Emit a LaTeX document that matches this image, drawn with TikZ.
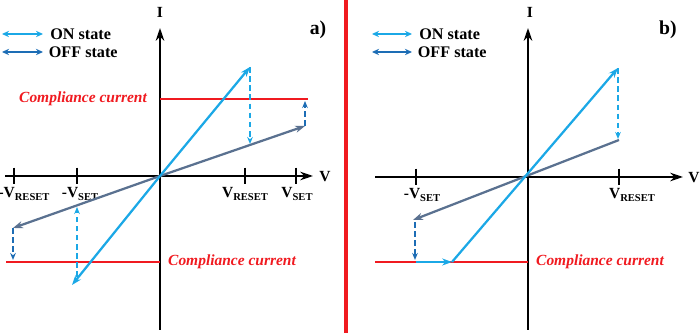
\documentclass[tikz,border=0pt]{standalone}
\usepackage{fontspec}
\setmainfont{Liberation Serif}
\usetikzlibrary{positioning,arrows.meta}
\definecolor{ink}{HTML}{000000}
\definecolor{onblue}{HTML}{1BA8E6}
\definecolor{offblue}{HTML}{1D6DB5}
\definecolor{offgray}{HTML}{5A7190}
\definecolor{ccred}{HTML}{F01A20}
\newcommand{\lowtxt}[1]{\raisebox{-0.45ex}{\fontsize{7.5pt}{8pt}\selectfont #1}}
\tikzset{
  ax/.style={-{Stealth[length=9pt,width=6pt]}, line width=1.7pt, color=ink},
  tickmark/.style={line width=1.3pt, color=ink},
  onarr/.style={-{Stealth[length=7pt,width=5pt]}, line width=1.6pt, color=onblue},
  offarr/.style={-{Stealth[length=7pt,width=5pt]}, line width=1.6pt, color=offgray},
  ondash/.style={-{Stealth[length=5pt,width=4pt]}, dash pattern=on 4pt off 2.5pt, line width=1.1pt, color=onblue},
  offdash/.style={-{Stealth[length=5pt,width=4pt]}, dash pattern=on 4pt off 2.5pt, line width=1.1pt, color=offblue},
  legarr/.style={{Stealth[length=5pt,width=4.5pt]}-{Stealth[length=5pt,width=4.5pt]}, line width=1.6pt},
  ccline/.style={line width=1.1pt, color=ccred},
  cclab/.style={font=\fontsize{11pt}{13pt}\selectfont\bfseries\itshape, text=ccred},
  lab/.style={font=\fontsize{11.5pt}{13pt}\selectfont\bfseries, text=ink, inner sep=1pt},
  vlab/.style={font=\fontsize{11pt}{13pt}\selectfont\bfseries, text=ink, inner sep=1pt},
  panlab/.style={font=\fontsize{14pt}{16pt}\selectfont\bfseries, text=ink},
}

\begin{document}
\begin{tikzpicture}[x=0.025cm, y=-0.025cm]
    \useasboundingbox (0,0) rectangle (700,333);
    % ---- panel a)
    \coordinate (oa) at (160,176);
    \coordinate (itopa) at (160,28);
    \coordinate (ibota) at (160,330);
    \coordinate (vlefta) at (5,176);
    \coordinate (vrighta) at (313,176);
    \draw[ax] (ibota) -- (itopa);
    \draw[ax] (vlefta) -- (vrighta);
    \node[vlab] (ia) at (160,12) {I};
    \node[vlab] (va) at (325,177) {V};
    \foreach \x/\n in {14/nra, 77/nsa, 245/pra, 296/psa} {
      \coordinate (\n) at (\x,176);
      \draw[tickmark] ([yshift=6pt]\n) -- ([yshift=-6pt]\n);
    }
    \node[vlab] (lnra) at (24,194) {-V\lowtxt{RESET}};
    \node[vlab] (lnsa) at (80,194) {-V\lowtxt{SET}};
    \node[vlab] (lpra) at (245,194) {V\lowtxt{RESET}};
    \node[vlab] (lpsa) at (297,194) {V\lowtxt{SET}};
    \coordinate (cca1) at (160,99);
    \coordinate (cca2) at (308,99);
    \coordinate (ccb1) at (6,262);
    \coordinate (ccb2) at (160,262);
    \draw[ccline] (cca1) -- (cca2);
    \draw[ccline] (ccb1) -- (ccb2);
    \node[cclab] (ccta) at (83,99) {Compliance current};
    \node[cclab] (ccba) at (232,262) {Compliance current};
    \coordinate (ona1) at (250,67);
    \coordinate (ona2) at (72,285);
    \coordinate (offa1) at (305,126);
    \coordinate (offa2) at (13,228);
    \draw[offarr] (oa) -- (offa1);
    \draw[offarr] (oa) -- (offa2);
    \draw[onarr] (oa) -- (ona1);
    \draw[onarr] (oa) -- (ona2);
    \coordinate (da1) at (250,144);
    \coordinate (da2) at (305,101);
    \coordinate (da3) at (77,277);
    \coordinate (da4) at (77,207);
    \coordinate (da5) at (13,260);
    \draw[ondash] (ona1) -- (da1);
    \draw[offdash] (offa1) -- (da2);
    \draw[ondash] (da3) -- (da4);
    \draw[offdash] (offa2) -- (da5);
    \coordinate (lga1) at (2,34);
    \coordinate (lga2) at (43,34);
    \coordinate (lga3) at (2,52);
    \coordinate (lga4) at (43,52);
    \draw[legarr, color=onblue] (lga1) -- (lga2);
    \draw[legarr, color=offblue] (lga3) -- (lga4);
    \node[lab, right=4pt of lga2] (legona) {ON state};
    \node[lab, right=3pt of lga4] (legoffa) {OFF state};
    \node[panlab] (pa) at (318,30) {a)};
    % ---- separator
    \coordinate (sep1) at (346,0);
    \coordinate (sep2) at (346,333);
    \draw[line width=3pt, color=ccred] (sep1) -- (sep2);
    % ---- panel b)
    \coordinate (ob) at (528,177);
    \coordinate (itopb) at (528,28);
    \coordinate (ibotb) at (528,330);
    \coordinate (vleftb) at (375,177);
    \coordinate (vrightb) at (683,177);
    \draw[ax] (ibotb) -- (itopb);
    \draw[ax] (vleftb) -- (vrightb);
    \node[vlab] (ib) at (530,12) {I};
    \node[vlab] (vb) at (694,178) {V};
    \foreach \x/\n in {416/nsb, 619/prb} {
      \coordinate (\n) at (\x,177);
      \draw[tickmark] ([yshift=6pt]\n) -- ([yshift=-6pt]\n);
    }
    \node[vlab] (lnsb) at (422,195) {-V\lowtxt{SET}};
    \node[vlab] (lprb) at (632,195) {V\lowtxt{RESET}};
    \coordinate (ccc1) at (375,262);
    \coordinate (ccc2) at (528,262);
    \draw[ccline] (ccc1) -- (ccc2);
    \node[cclab] (ccb) at (600,262) {Compliance current};
    \coordinate (onb0) at (416,262);
    \coordinate (onb1) at (452,262);
    \coordinate (onb2) at (618,68);
    \coordinate (offb1) at (619,140);
    \coordinate (offb2) at (413,220);
    \draw[offarr] (offb1) -- (offb2);
    \draw[onarr] (onb0) -- (onb1);
    \draw[onarr] (onb1) -- (onb2);
    \coordinate (db1) at (618,139);
    \coordinate (db2) at (415,222);
    \coordinate (db3) at (415,260);
    \draw[ondash] (onb2) -- (db1);
    \draw[offdash] (db2) -- (db3);
    \coordinate (lgb1) at (372,34);
    \coordinate (lgb2) at (412,34);
    \coordinate (lgb3) at (372,52);
    \coordinate (lgb4) at (412,52);
    \draw[legarr, color=onblue] (lgb1) -- (lgb2);
    \draw[legarr, color=offblue] (lgb3) -- (lgb4);
    \node[lab, right=4pt of lgb2] (legonb) {ON state};
    \node[lab, right=3pt of lgb4] (legoffb) {OFF state};
    \node[panlab] (pb) at (668,30) {b)};
\end{tikzpicture}
\end{document}
